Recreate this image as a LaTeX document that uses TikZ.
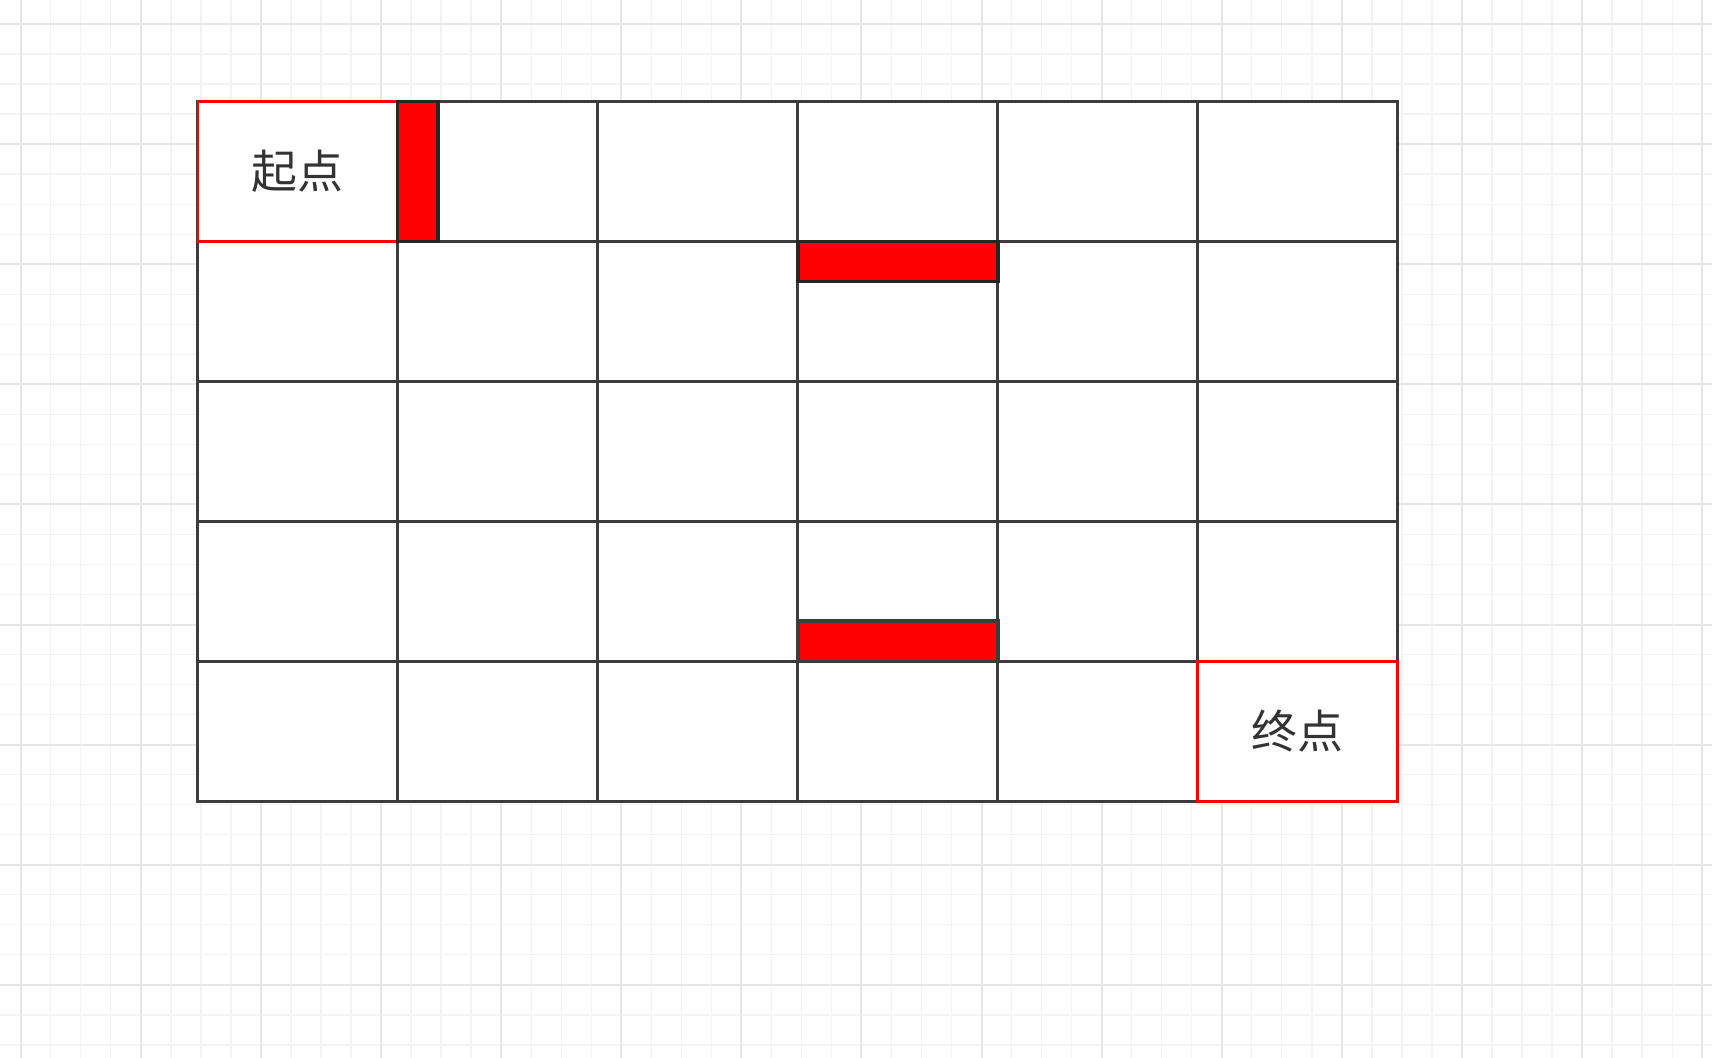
\documentclass[tikz,border=0pt]{standalone}
\usepackage{fontspec}
\newfontfamily\cjk{Noto Sans CJK SC}
\definecolor{gridminor}{HTML}{F3F3F3}
\definecolor{gridmajor}{HTML}{E6E6E6}
\definecolor{boardgray}{HTML}{3C3C3C}
\definecolor{txt}{HTML}{333333}
\definecolor{wallred}{HTML}{FF0000}
\tikzset{
  minorline/.style={gridminor, line width=1.2pt},
  majorline/.style={gridmajor, line width=1.8pt},
  boardline/.style={boardgray, line width=3pt, line cap=rect},
  startbox/.style={draw=wallred, line width=2pt},
  endbox/.style={draw=wallred, line width=3pt},
  wallbox/.style={fill=wallred, draw=black!85, line width=3.3pt},
  celltext/.style={text=txt, font=\cjk\fontsize{42}{50}\selectfont, inner sep=0pt}
}
\begin{document}
\begin{tikzpicture}[x=1pt,y=-1pt]
\fill[white] (0,0) rectangle (1568,969);
\useasboundingbox (0,0) rectangle (1568,969);
% background grid
\foreach \k in {0,...,56} \draw[minorline] ({19+27.5*\k},0) -- ({19+27.5*\k},969);
\foreach \k in {0,...,34} \draw[minorline] (0,{22+27.5*\k}) -- (1568,{22+27.5*\k});
\foreach \k in {0,...,14} \draw[majorline] ({19+110*\k},0) -- ({19+110*\k},969);
\foreach \k in {0,...,8} \draw[majorline] (0,{22+110*\k}) -- (1568,{22+110*\k});
% board
\fill[white] (181,93) rectangle (1280,734);
\foreach \x in {181,364.2,547.4,730.6,913.8,1097,1280} \draw[boardline] (\x,93) -- (\x,734);
\foreach \y in {93,221.2,349.4,477.6,605.8,734} \draw[boardline] (181,\y) -- (1280,\y);
% start cell
\draw[startbox] (181,93) rectangle (364.2,221.2);
\node[celltext] (start) at (272.6,157.1) {起点};
% walls
\draw[wallbox] (364.2,93) rectangle (401,221.2);
\draw[wallbox] (730.6,221.2) rectangle (913.8,258);
\draw[wallbox, draw=boardgray] (730.6,569) rectangle (913.8,605.8);
% end cell
\draw[endbox] (1097,605.8) rectangle (1280,734);
\node[celltext] (finish) at (1188.5,669.9) {终点};
\end{tikzpicture}
\end{document}
